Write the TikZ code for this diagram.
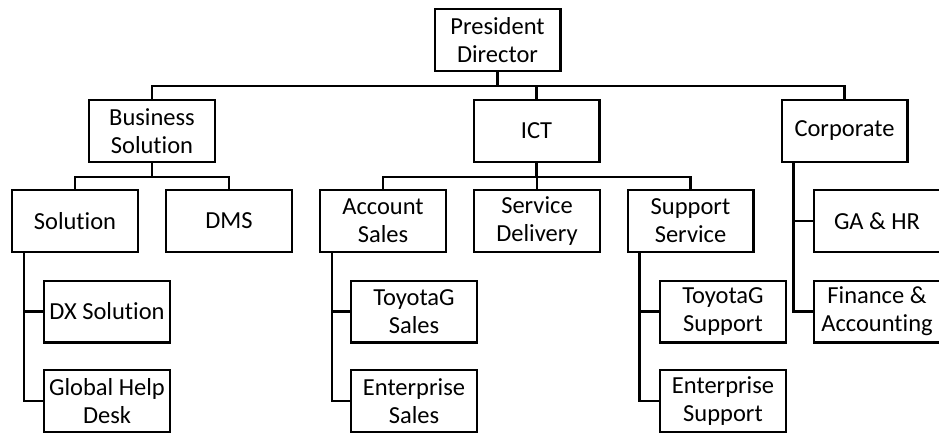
\documentclass[tikz,border=0pt]{standalone}
\usepackage{fontspec}
\setmainfont[Ligatures=NoCommon]{Carlito}
\begin{document}
\begin{tikzpicture}[x=1pt,y=-1pt,
  box/.style={draw=black,line width=2.4pt,fill=white,minimum width=125.6pt,minimum height=61.6pt,
    inner sep=0pt,align=center,font=\fontsize{24.5}{28}\selectfont},
  link/.style={draw=black,line width=2.4pt}]
\useasboundingbox (0,0) rectangle (939,433);
\clip (0,0) rectangle (939,433);
\fill[white] (0,0) rectangle (939,433);
% nodes
\node[box] (pd) at (497.5,40) {President\\Director};
\node[box] (bs) at (152,131) {Business\\Solution};
\node[box] (ict) at (536.5,131) {ICT};
\node[box] (corp) at (844.5,131) {Corporate};
\node[box] (sol) at (75,221) {Solution};
\node[box] (dms) at (229,221) {DMS};
\node[box] (as) at (383,221) {Account\\Sales};
\node[box] (sd) at (537,221) {Service\\Delivery};
\node[box] (ss) at (690.5,221) {Support\\Service};
\node[box] (ga) at (877,221) {GA \& HR};
\node[box] (dx) at (107,311.5) {DX Solution};
\node[box] (ts) at (414,311.5) {ToyotaG\\Sales};
\node[box] (tsup) at (723,311.5) {ToyotaG\\Support};
\node[box] (fin) at (877,311.5) {Finance \&\\Accounting};
\node[box] (ghd) at (107,401) {Global Help\\Desk};
\node[box] (es) at (414,401) {Enterprise\\Sales};
\node[box] (esup) at (723,401) {Enterprise\\Support};
% junction levels
\coordinate (lv1) at (0,86);
\coordinate (lv2) at (0,177);
% top level
\draw[link] (pd.south) -- (pd.south |- lv1) -| (bs.north);
\draw[link] (pd.south |- lv1) -| (corp.north);
\draw[link] (ict.north |- lv1) -- (ict.north);
% business solution
\draw[link] (bs.south) -- (bs.south |- lv2) -| (sol.north);
\draw[link] (bs.south |- lv2) -| (dms.north);
% ICT
\draw[link] (ict.south) -- (ict.south |- lv2) -| (as.north);
\draw[link] (ict.south |- lv2) -| (ss.north);
\draw[link] (sd.north |- lv2) -- (sd.north);
% side branches
\coordinate (vsol) at ([xshift=13pt]sol.south west);
\draw[link] (vsol) |- (ghd.west);
\draw[link] (vsol |- dx.west) -- (dx.west);
\coordinate (vas) at ([xshift=13pt]as.south west);
\draw[link] (vas) |- (es.west);
\draw[link] (vas |- ts.west) -- (ts.west);
\coordinate (vss) at ([xshift=13pt]ss.south west);
\draw[link] (vss) |- (esup.west);
\draw[link] (vss |- tsup.west) -- (tsup.west);
\coordinate (vcorp) at ([xshift=13pt]corp.south west);
\draw[link] (vcorp) |- (fin.west);
\draw[link] (vcorp |- ga.west) -- (ga.west);
\end{tikzpicture}
\end{document}
